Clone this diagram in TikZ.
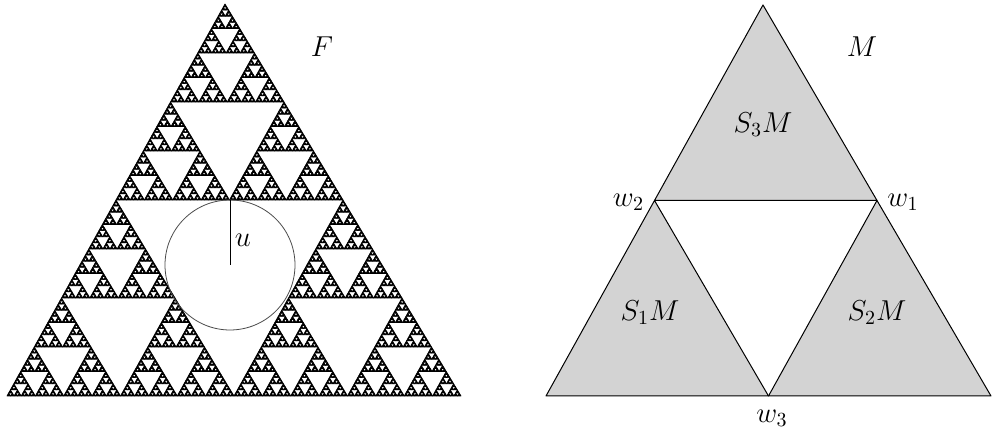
\documentclass[tikz,border=0pt]{standalone}
\usetikzlibrary{calc}
\definecolor{ink}{HTML}{000000}
\definecolor{piecefill}{HTML}{D3D3D3}
\definecolor{circlegray}{HTML}{4A4A4A}

% black pieces of the gasket at level #1, inside the unit triangle (0,0)-(1,0)-(0,1)
\newcommand\gasket[1]{%
  \ifnum#1=0
    \filldraw[ink, line width=0.35pt, line join=round] (0,0) -- (1,0) -- (0,1) -- cycle;
  \else
    \begin{scope}[scale=0.5]\gasket{\numexpr#1-1\relax}\end{scope}%
    \begin{scope}[shift={(0.5,0)}, scale=0.5]\gasket{\numexpr#1-1\relax}\end{scope}%
    \begin{scope}[shift={(0,0.5)}, scale=0.5]\gasket{\numexpr#1-1\relax}\end{scope}%
  \fi}

\begin{document}
\begin{tikzpicture}[
  x=0.5pt, y=0.5pt,
  font=\Large,
  piece/.style={draw=ink, fill=piecefill, line width=0.5pt, line join=round},
  radiusline/.style={draw=ink, line width=0.5pt},
  ball/.style={draw=circlegray, line width=0.4pt},
  lbl/.style={inner sep=1pt}
]
\useasboundingbox (0,0) rectangle (992,437);

% ---------------------------------------------------------------------------
% left: the gasket F and the ball in its middle hole
% ---------------------------------------------------------------------------
\begin{scope}[shift={(7,41)}, x={(227pt,0pt)}, y={(109pt,196pt)}]
  \gasket{7}
\end{scope}

\coordinate (ctr) at (230,172);
\draw[ball] (ctr) circle (65);
\draw[radiusline] (ctr) -- (ctr |- 0,237);
\node[lbl] (u) at (243,197) {$u$};
\node[lbl] (F) at (322,390) {$F$};

% ---------------------------------------------------------------------------
% right: the triangle M and its three images
% ---------------------------------------------------------------------------
\begin{scope}[shift={(546,41)}, x={(222.5pt,0pt)}, y={(108.5pt,195.5pt)}]
  \coordinate (bl) at (0,0);
  \coordinate (br) at (1,0);
  \coordinate (top) at (0,1);
  \coordinate (w3) at (0.5,0);
  \coordinate (w2) at (0,0.5);
  \coordinate (w1) at (0.5,0.5);
  \filldraw[piece] (bl) -- (w3) -- (w2) -- cycle;
  \filldraw[piece] (w3) -- (br) -- (w1) -- cycle;
  \filldraw[piece] (w2) -- (w1) -- (top) -- cycle;
\end{scope}

\node[lbl] (S3M) at (763,312) {$S_3M$};
\node[lbl] (S1M) at (650,124) {$S_1M$};
\node[lbl] (S2M) at (877,124) {$S_2M$};
\node[lbl] (M) at (862,390) {$M$};
\node[lbl, anchor=east] (lw2) at ($(w2)+(-8,-2)$) {$w_2$};
\node[lbl, anchor=west] (lw1) at ($(w1)+(8,-2)$) {$w_1$};
\node[lbl] (lw3) at (772,19) {$w_3$};

\end{tikzpicture}
\end{document}
